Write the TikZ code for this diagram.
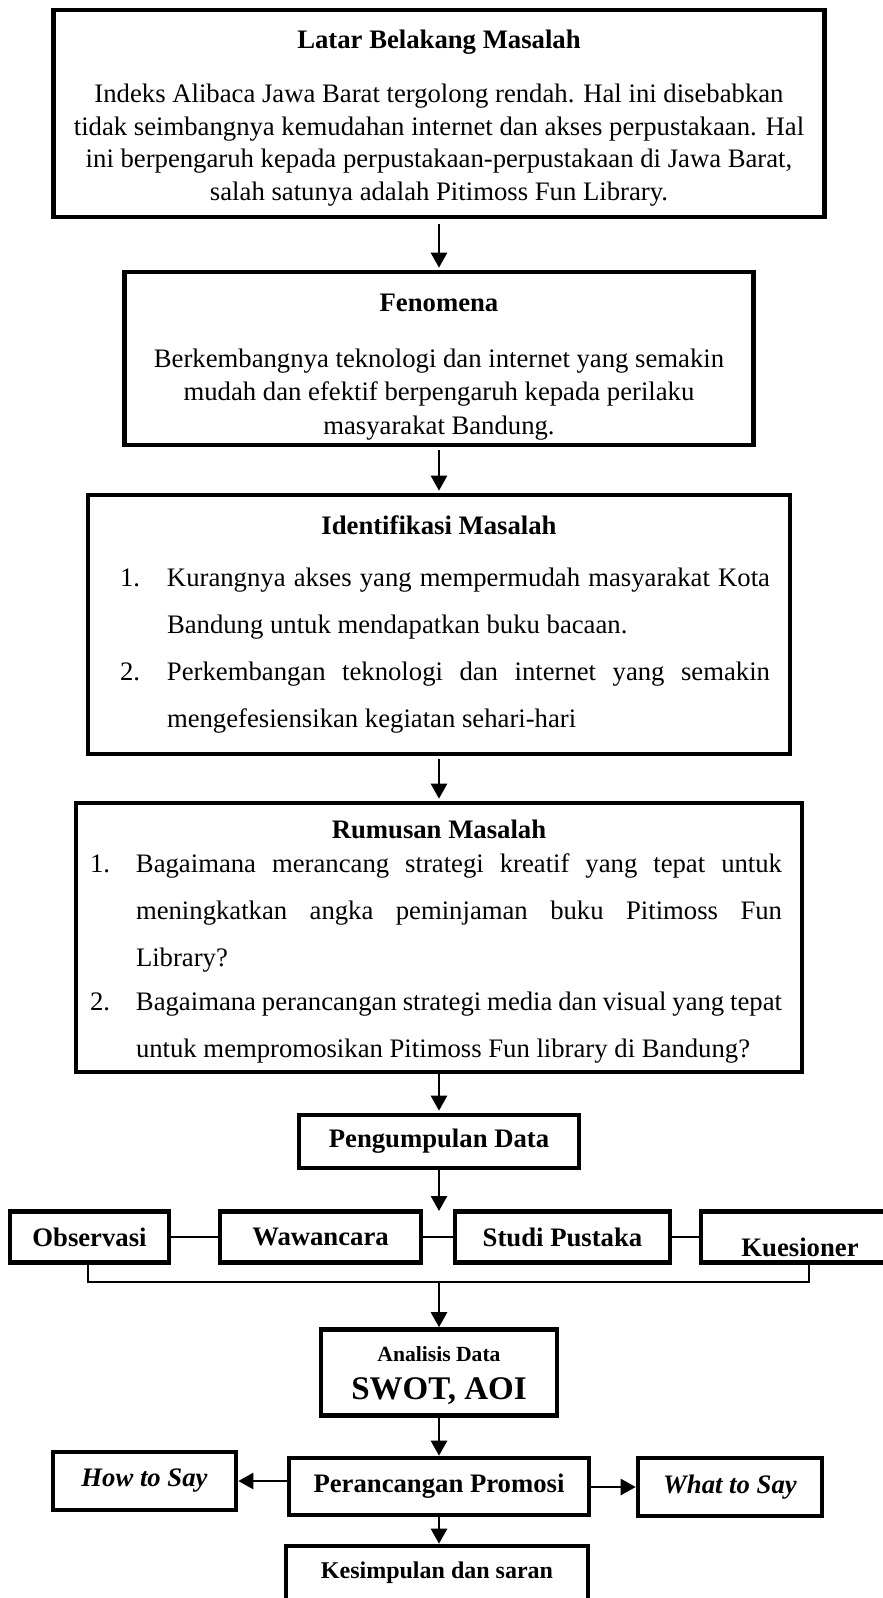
\documentclass[tikz,border=0pt]{standalone}
\usepackage{fontspec}
\setmainfont{Liberation Serif}
\usepackage{tikz}
\usetikzlibrary{arrows.meta,calc,positioning}
\newlength{\ItemInd}
\tikzset{
  box/.style={draw, line width=4.6pt, inner sep=0pt, align=center,
    font=\fontsize{26.7}{32.7}\selectfont},
  listBox/.style={box, align=justify, font=\fontsize{26.7}{47.3}\selectfont},
  flowArrow/.style={-{Triangle[length=15pt,width=16pt]}, line width=2.5pt,
    shorten <=3pt, shorten >=2pt},
  sideArrow/.style={flowArrow, shorten <=0pt, shorten >=0pt},
  joinLine/.style={line width=2.5pt}
}
% numbered item with hanging indent
\newcommand{\NumItem}[2]{\par\noindent\hangindent=\ItemInd\hangafter=1%
  \makebox[\ItemInd][l]{#1}#2\par}

\begin{document}
\begin{tikzpicture}[x=1pt, y=-1pt]
  \useasboundingbox (0,0) rectangle (883,1598);
  \clip (0,0) rectangle (883,1598);
  % main column
  \node[box, minimum width=771pt, minimum height=207pt] (latar) at (439,113.5) {%
    \rule{0pt}{28pt}\textbf{Latar Belakang Masalah}\\[21.3pt]
    Indeks Alibaca Jawa Barat tergolong rendah. Hal ini disebabkan\\
    tidak seimbangnya kemudahan internet dan akses perpustakaan. Hal\\
    ini berpengaruh kepada perpustakaan-perpustakaan di Jawa Barat,\\
    salah satunya adalah Pitimoss Fun Library.};
  \node[box, font=\fontsize{26.7}{33.5}\selectfont, minimum width=629pt,
    minimum height=173pt] (fenomena) at (439,358.5) {%
    \rule{0pt}{34pt}\textbf{Fenomena}\\[22.5pt]
    Berkembangnya teknologi dan internet yang semakin\\
    mudah dan efektif berpengaruh kepada perilaku\\
    masyarakat Bandung.};
  \node[listBox, text width=662pt, minimum width=702pt,
    minimum height=259pt] (identifikasi) at (439,624.5) {%
    \setlength{\ItemInd}{47pt}%
    {\centering\textbf{Identifikasi Masalah}\par}\vspace{4.7pt}
    \leftskip=12pt
    \NumItem{1.}{Kurangnya akses yang mempermudah masyarakat Kota\linebreak
      Bandung untuk mendapatkan buku bacaan.}
    \NumItem{2.}{Perkembangan teknologi dan internet yang semakin\linebreak
      mengefesiensikan kegiatan sehari-hari}};
  \node[listBox, text width=698pt, minimum width=726pt,
    minimum height=269pt] (rumusan) at (439,937.5) {%
    \setlength{\ItemInd}{46pt}%
    {\centering\rule{0pt}{27pt}\textbf{Rumusan Masalah}\par}\vspace{-14pt}
    \rightskip=6pt
    \NumItem{1.}{Bagaimana merancang strategi kreatif yang tepat untuk\linebreak
      meningkatkan angka peminjaman buku Pitimoss Fun\linebreak
      Library?}\vspace{-4pt}
    \NumItem{2.}{Bagaimana perancangan strategi media dan visual yang tepat\linebreak
      untuk mempromosikan Pitimoss Fun library di Bandung?}};
  \node[box, minimum width=280pt, minimum height=53pt] (pengumpulan)
    at (439,1141.5) {\textbf{Pengumpulan Data}};
  % data sources
  \node[box, minimum width=159pt, minimum height=51pt] (observasi)
    at (89.5,1237) {\textbf{Observasi}};
  \node[box, minimum width=201pt, minimum height=51pt] (wawancara)
    at (320.5,1237) {\textbf{Wawancara}};
  \node[box, minimum width=215pt, minimum height=51pt] (studi)
    at (562.5,1237) {\textbf{Studi Pustaka}};
  \node[box, minimum width=198pt, minimum height=51pt, text height=38pt,
    text depth=0pt] (kuesioner) at (800,1237) {\textbf{Kuesioner}};
  \coordinate (rowIn) at (439,1211);
  \coordinate (gabung) at (439,1282);
  \node[box, minimum width=236pt, minimum height=86pt] (analisis)
    at (439,1372.5) {%
    {\fontsize{21.6}{24}\selectfont\rule{0pt}{21pt}\textbf{Analisis Data}}\\[6pt]
    {\fontsize{33}{34}\selectfont\textbf{SWOT, AOI}}};
  \node[box, minimum width=300pt, minimum height=57pt] (promosi)
    at (439,1486.5) {\textbf{Perancangan Promosi}};
  \node[box, minimum width=183pt, minimum height=58pt] (howSay)
    at (144.5,1481) {\textbf{\textit{How to Say}}};
  \node[box, minimum width=184pt, minimum height=58pt] (whatSay)
    at (730,1487) {\textbf{\textit{What to Say}}};
  \node[box, minimum width=302pt, minimum height=54pt,
    font=\fontsize{24}{28}\selectfont] (kesimpulan)
    at (437,1573) {\textbf{Kesimpulan dan saran}};
  % connectors
  \draw[flowArrow, shorten <=5pt] (latar) -- (fenomena);
  \draw[flowArrow] (fenomena) -- (identifikasi);
  \draw[flowArrow] (identifikasi) -- (rumusan);
  \draw[flowArrow, shorten <=0pt] (rumusan) -- (pengumpulan);
  \draw[sideArrow] (pengumpulan) -- (rowIn);
  \draw[joinLine] (observasi) -- (wawancara);
  \draw[joinLine] (wawancara) -- (studi);
  \draw[joinLine] (studi) -- (kuesioner);
  \draw[joinLine] ([xshift=-1.5pt]observasi.south) |- (gabung)
    -| ([xshift=9pt]kuesioner.south);
  \draw[sideArrow] (gabung) -- (analisis);
  \draw[sideArrow] (analisis) -- (promosi);
  \draw[sideArrow] (promosi.west |- howSay.east) -- (howSay.east);
  \draw[sideArrow] (promosi.east |- whatSay.west) -- (whatSay.west);
  \draw[sideArrow] (promosi.south) -- (promosi.south |- kesimpulan.north);
\end{tikzpicture}
\end{document}
